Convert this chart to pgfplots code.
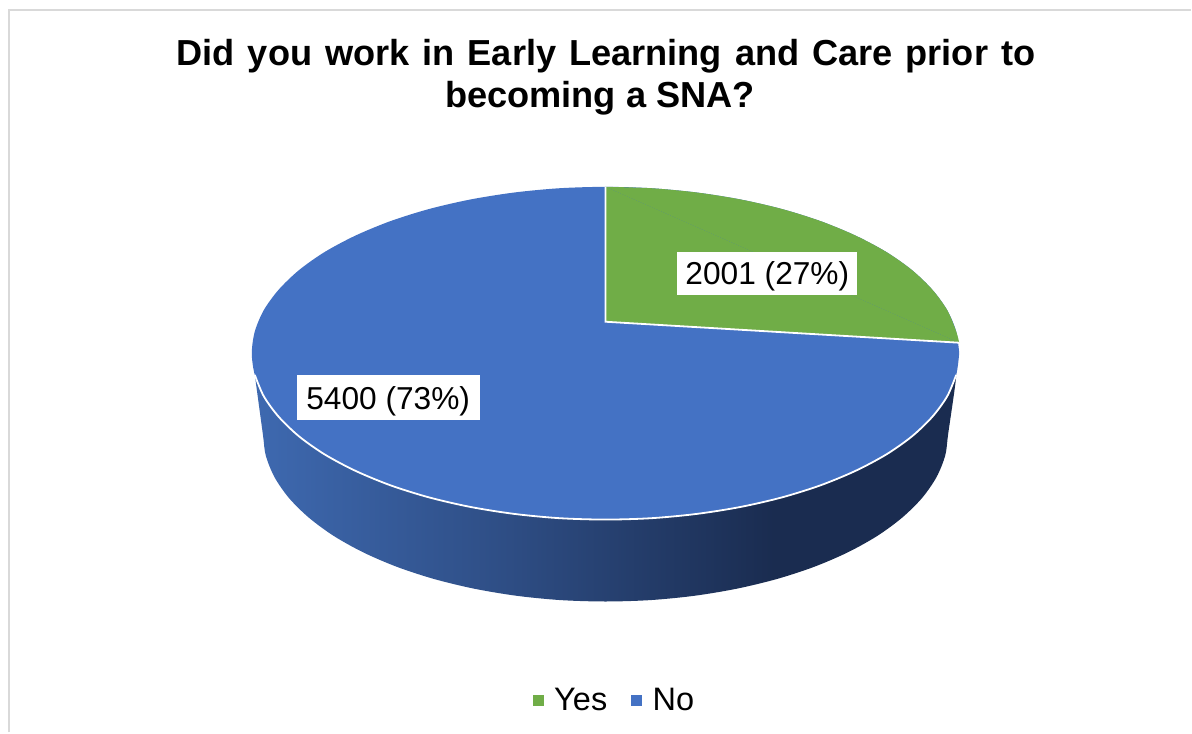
\documentclass[border=0pt]{standalone}
\usepackage{pgfplots}
\pgfplotsset{compat=1.18}
\usepackage{fontspec}
\setmainfont{Liberation Sans}
\definecolor{pieblue}{HTML}{4472C4}
\definecolor{piegreen}{HTML}{70AD47}
\definecolor{frame}{HTML}{D9D9D9}
\definecolor{sideA}{HTML}{3E69B0}
\definecolor{sideB}{HTML}{2F4F87}
\definecolor{sideC}{HTML}{1A2C50}
\pgfdeclarehorizontalshading{pieside}{100bp}{
  color(0bp)=(sideA); color(25bp)=(sideA); color(42bp)=(sideB);
  color(62bp)=(sideC); color(100bp)=(sideC)}
\begin{document}
\begin{tikzpicture}
\begin{axis}[
    at={(0,0)}, anchor=south west,
    scale only axis,
    width=1192pt, height=733pt,
    xmin=0, xmax=1192, ymin=0, ymax=733,
    y dir=reverse,
    hide axis,
    clip=false,
    legend style={at={(axis cs:530,700.5)}, anchor=west, draw=none, fill=none,
        font=\fontsize{32.5}{36}\selectfont, legend columns=2,
        /tikz/every even column/.append style={column sep=22pt},
        /tikz/every odd column/.append style={column sep=9.5pt}},
    legend cell align=left,
]
% keeps the page at the full size of the picture
\addplot[draw=none, forget plot] coordinates {(0,0) (1192,733)};
% chart frame, cut off on the right and at the bottom
\addplot[frame, line width=2pt, forget plot] coordinates {(9,733) (9,10) (1192,10)};

% side of the disc
\addplot[draw=none, shade, shading=pieside, smooth, forget plot] coordinates {
(255,375.2) (264,396.6) (279,417.2) (299.4,436.8) (325.1,454.9) (355.7,471.2)
(390.5,485.6) (429,497.7) (470.5,507.3) (514.4,514.3) (559.8,518.6) (606,520)
(652.2,518.6) (697.6,514.3) (741.5,507.3) (783,497.7) (821.5,485.6) (856.3,471.2)
(886.9,454.9) (912.6,436.8) (933,417.2) (948,396.6) (957,375.2)
(949,434) (946,455.9) (937.3,477.5) (922.9,498.3) (903,518) (878.1,536.3) (848.5,552.8)
(814.8,567.3) (777.5,579.5) (737.3,589.2) (694.8,596.3) (650.8,600.6) (606,602)
(561.2,600.6) (517.2,596.3) (474.7,589.2) (434.5,579.5) (397.2,567.3) (363.5,552.8)
(333.9,536.3) (309,518) (289.1,498.3) (274.7,477.5) (266,455.9) (263,434)
(255,375.2)
};

% top of the disc: No
\addplot[fill=pieblue, draw=none, smooth, forget plot] coordinates {
(960,353.5) (957,375.2) (948,396.6) (933,417.2) (912.6,436.8) (886.9,454.9)
(856.3,471.2) (821.5,485.6) (783,497.7) (741.5,507.3) (697.6,514.3) (652.2,518.6)
(606,520) (559.8,518.6) (514.4,514.3) (470.5,507.3) (429,497.7) (390.5,485.6)
(355.7,471.2) (325.1,454.9) (299.4,436.8) (279,417.2) (264,396.6) (255,375.2)
(252,353.5) (255,331.8) (264,310.4) (279,289.8) (299.4,270.2) (325.1,252.1)
(355.7,235.8) (390.5,221.4) (429,209.3) (470.5,199.7) (514.4,192.7) (559.8,188.4)
(606,187) (652.2,188.4) (697.6,192.7) (741.5,199.7) (783,209.3) (821.5,221.4)
(856.3,235.8) (886.9,252.1) (912.6,270.2) (933,289.8) (948,310.4) (957,331.8)
(960,353.5)
};
% white rim along the front
\addplot[white, line width=1.8pt, smooth, forget plot] coordinates {
(255,375.2) (264,396.6) (279,417.2) (299.4,436.8) (325.1,454.9) (355.7,471.2)
(390.5,485.6) (429,497.7) (470.5,507.3) (514.4,514.3) (559.8,518.6) (606,520)
(652.2,518.6) (697.6,514.3) (741.5,507.3) (783,497.7) (821.5,485.6) (856.3,471.2)
(886.9,454.9) (912.6,436.8) (933,417.2) (948,396.6) (957,375.2)
};
% top of the disc: Yes
\addplot[fill=piegreen, draw=none, smooth, forget plot] coordinates {
(606,187) (652.2,188.4) (697.6,192.7) (741.5,199.7) (783,209.3)
(821.5,221.4) (856.3,235.8) (886.9,252.1) (912.6,270.2) (933,289.8) (948,310.4)
(957,331.8) (960,343)
};
\addplot[fill=piegreen, draw=none, forget plot] coordinates {(606,187) (606,322) (960,343)};
\addplot[white, line width=1.8pt, forget plot] coordinates {(606,187) (606,322) (960,343)};

% legend entries
\addlegendimage{only marks, mark=square*, mark size=5pt, piegreen}
\addlegendentry{Yes}
\addlegendimage{only marks, mark=square*, mark size=5pt, pieblue}
\addlegendentry{No}

% title
\node[anchor=base, font=\fontsize{36.2}{40}\selectfont\bfseries] at (axis cs:606.5,66) {\spaceskip=13pt Did you work in Early Learning and Care prior to};
\node[anchor=base, font=\fontsize{36.2}{40}\selectfont\bfseries] at (axis cs:600.5,108) {becoming a SNA?};

% data labels
\node[anchor=base, fill=white, inner sep=0pt, minimum width=180pt, text height=33pt, text depth=10pt, font=\fontsize{31.7}{36}\selectfont] at (axis cs:768,285) {2001 (27\%)};
\node[anchor=base, fill=white, inner sep=0pt, minimum width=183pt, text height=35pt, text depth=10pt, font=\fontsize{31.7}{36}\selectfont] at (axis cs:388.5,410) {5400 (73\%)};
\end{axis}
\end{tikzpicture}
\end{document}
